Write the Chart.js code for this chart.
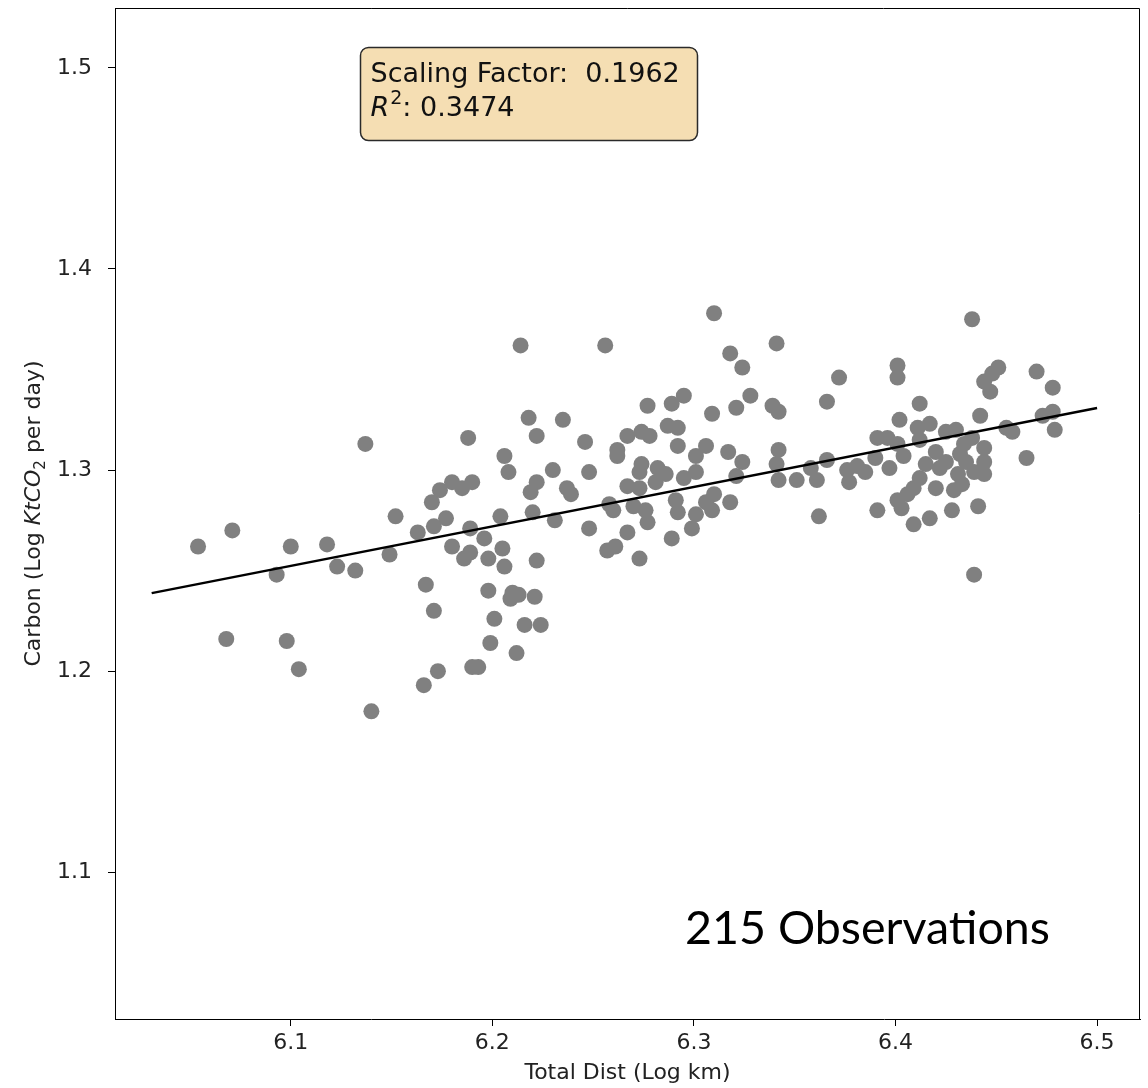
<!DOCTYPE html>
<html>
<head>
<meta charset="utf-8">
<script src="https://cdn.jsdelivr.net/npm/chart.js@4.4.1/dist/chart.umd.min.js"></script>
<style>
  html, body { margin: 0; padding: 0; background: #fff; }
  #wrap { width: 1148px; height: 1088px; }
</style>
</head>
<body>
<div id="wrap"><canvas id="scatter" width="1148" height="1088"></canvas></div>
<script>
// total distance, log km
const distLog = [
  6.054, 6.071, 6.068, 6.098, 6.104, 6.100, 6.093, 6.118, 6.123, 6.132,
  6.137, 6.152, 6.149, 6.140, 6.167, 6.171, 6.166, 6.173, 6.163, 6.170,
  6.174, 6.180, 6.185, 6.190, 6.188, 6.171, 6.177, 6.180, 6.186, 6.189,
  6.189, 6.190, 6.193, 6.310, 6.214, 6.256, 6.341, 6.318, 6.324, 6.295,
  6.289, 6.277, 6.328, 6.321, 6.309, 6.339, 6.342, 6.218, 6.235, 6.222,
  6.246, 6.267, 6.274, 6.278, 6.287, 6.292, 6.292, 6.262, 6.262, 6.206,
  6.208, 6.230, 6.248, 6.274, 6.273, 6.282, 6.286, 6.306, 6.301, 6.317,
  6.324, 6.342, 6.341, 6.321, 6.301, 6.295, 6.281, 6.267, 6.273, 6.342,
  6.351, 6.222, 6.219, 6.237, 6.239, 6.258, 6.260, 6.270, 6.276, 6.277,
  6.291, 6.292, 6.310, 6.306, 6.309, 6.318, 6.301, 6.299, 6.204, 6.220,
  6.231, 6.248, 6.267, 6.289, 6.196, 6.198, 6.205, 6.206, 6.222, 6.257,
  6.261, 6.273, 6.198, 6.210, 6.213, 6.221, 6.209, 6.201, 6.216, 6.224,
  6.199, 6.212, 6.438, 6.372, 6.401, 6.401, 6.451, 6.448, 6.444, 6.447,
  6.470, 6.478, 6.366, 6.412, 6.402, 6.442, 6.411, 6.417, 6.425, 6.430,
  6.455, 6.458, 6.473, 6.478, 6.479, 6.391, 6.396, 6.401, 6.412, 6.404,
  6.390, 6.397, 6.420, 6.425, 6.434, 6.438, 6.444, 6.444, 6.435, 6.415,
  6.444, 6.465, 6.366, 6.358, 6.361, 6.376, 6.381, 6.385, 6.377, 6.412,
  6.409, 6.420, 6.429, 6.433, 6.439, 6.406, 6.401, 6.403, 6.391, 6.362,
  6.417, 6.409, 6.428, 6.441, 6.439, 6.432, 6.422, 6.431
];
// carbon, log ktCO2 per day
const carbonLog = [
  1.262, 1.270, 1.216, 1.215, 1.201, 1.262, 1.248, 1.263, 1.252, 1.250,
  1.313, 1.277, 1.258, 1.180, 1.243, 1.230, 1.193, 1.200, 1.269, 1.284,
  1.290, 1.294, 1.291, 1.294, 1.316, 1.272, 1.276, 1.262, 1.256, 1.259,
  1.271, 1.202, 1.202, 1.378, 1.362, 1.362, 1.363, 1.358, 1.351, 1.337,
  1.333, 1.332, 1.337, 1.331, 1.328, 1.332, 1.329, 1.326, 1.325, 1.317,
  1.314, 1.317, 1.319, 1.317, 1.322, 1.321, 1.312, 1.310, 1.307, 1.307,
  1.299, 1.300, 1.299, 1.303, 1.299, 1.301, 1.298, 1.312, 1.307, 1.309,
  1.304, 1.310, 1.303, 1.297, 1.299, 1.296, 1.294, 1.292, 1.291, 1.295,
  1.295, 1.294, 1.289, 1.291, 1.288, 1.283, 1.280, 1.282, 1.280, 1.274,
  1.285, 1.279, 1.288, 1.284, 1.280, 1.284, 1.278, 1.271, 1.277, 1.279,
  1.275, 1.271, 1.269, 1.266, 1.266, 1.256, 1.261, 1.252, 1.255, 1.260,
  1.262, 1.256, 1.240, 1.239, 1.238, 1.237, 1.236, 1.226, 1.223, 1.223,
  1.214, 1.209, 1.375, 1.346, 1.352, 1.346, 1.351, 1.348, 1.344, 1.339,
  1.349, 1.341, 1.334, 1.333, 1.325, 1.327, 1.321, 1.323, 1.319, 1.320,
  1.321, 1.319, 1.327, 1.329, 1.320, 1.316, 1.316, 1.313, 1.315, 1.307,
  1.306, 1.301, 1.309, 1.304, 1.313, 1.316, 1.311, 1.304, 1.304, 1.303,
  1.298, 1.306, 1.305, 1.301, 1.295, 1.300, 1.302, 1.299, 1.294, 1.296,
  1.291, 1.291, 1.290, 1.293, 1.299, 1.288, 1.285, 1.281, 1.280, 1.277,
  1.276, 1.273, 1.280, 1.282, 1.248, 1.308, 1.301, 1.298
];

// fitted line end points
const fitX = [6.031, 6.500];
const fitY = [1.2388, 1.3309];

const xTicks = [6.1, 6.2, 6.3, 6.4, 6.5];
const yTicks = [1.1, 1.2, 1.3, 1.4, 1.5];
const xRange = [6.0128, 6.5213];
const yRange = [1.0270, 1.5298];

const scalingFactor = "0.1962";
const rSquared = "0.3474";
const obsCount = 215;

const points = distLog.map((x, i) => ({ x: x, y: carbonLog[i] }));
const fitLine = fitX.map((x, i) => ({ x: x, y: fitY[i] }));

const FONT = "'DejaVu Sans', sans-serif";

// frame, text box, observation count and y title
const notesPlugin = {
  id: "notes",
  afterDraw(chart) {
    const ctx = chart.ctx;
    const a = chart.chartArea;
    ctx.save();

    // top and right spines
    ctx.strokeStyle = "#000";
    ctx.lineWidth = 1;
    ctx.beginPath();
    ctx.moveTo(a.left, a.top + 0.5);
    ctx.lineTo(a.right - 0.5, a.top + 0.5);
    ctx.lineTo(a.right - 0.5, a.bottom);
    ctx.stroke();

    // stats box
    const bx = a.left + 245.5, by = a.top + 39.5, bw = 337, bh = 93;
    ctx.beginPath();
    ctx.roundRect(bx, by, bw, bh, 8);
    ctx.fillStyle = "#f5deb3";
    ctx.fill();
    ctx.lineWidth = 1.5;
    ctx.strokeStyle = "#2a2a2a";
    ctx.stroke();

    ctx.fillStyle = "#111";
    ctx.textBaseline = "alphabetic";
    ctx.textAlign = "left";
    ctx.font = "27px " + FONT;
    ctx.fillText("Scaling Factor:  " + scalingFactor, bx + 10, by + 34);

    let tx = bx + 10;
    const ty = by + 68;
    ctx.font = "italic 27px " + FONT;
    ctx.fillText("R", tx, ty);
    tx += ctx.measureText("R").width;
    ctx.font = "19px " + FONT;
    ctx.fillText("2", tx + 1, ty - 12);
    tx += ctx.measureText("2").width + 1;
    ctx.font = "27px " + FONT;
    ctx.fillText(": " + rSquared, tx, ty);

    // observation count
    const obsText = obsCount + " Observations";
    ctx.font = "47px Lato, 'Open Sans', sans-serif";
    const w = ctx.measureText(obsText).width;
    ctx.save();
    ctx.translate(a.left + 570, a.top + 936);
    ctx.scale(365 / w, 1);
    ctx.fillStyle = "#000";
    ctx.fillText(obsText, 0, 0);
    ctx.restore();

    // y axis title with italic KtCO and subscript 2
    const parts = [
      { t: "Carbon (Log ", f: "22px " + FONT, dy: 0 },
      { t: "KtCO", f: "italic 22px " + FONT, dy: 0 },
      { t: "2", f: "15px " + FONT, dy: 5 },
      { t: " per day)", f: "22px " + FONT, dy: 0 }
    ];
    let total = 0;
    parts.forEach(p => { ctx.font = p.f; p.w = ctx.measureText(p.t).width; total += p.w; });
    ctx.translate(40, (a.top + a.bottom) / 2);
    ctx.rotate(-Math.PI / 2);
    ctx.fillStyle = "#222";
    let px = -total / 2;
    parts.forEach(p => {
      ctx.font = p.f;
      ctx.fillText(p.t, px, p.dy);
      px += p.w;
    });
    ctx.restore();
  }
};

const ctx = document.getElementById("scatter").getContext("2d");
new Chart(ctx, {
  type: "scatter",
  data: {
    datasets: [
      {
        type: "line",
        label: "fit",
        data: fitLine,
        borderColor: "#000",
        borderWidth: 2.5,
        pointRadius: 0,
        fill: false,
        order: 0
      },
      {
        label: "obs",
        data: points,
        backgroundColor: "#808080",
        pointRadius: 8,
        pointBorderWidth: 0,
        borderWidth: 0,
        order: 1
      }
    ]
  },
  options: {
    responsive: false,
    animation: false,
    layout: { padding: { top: 6, right: 8, left: 0, bottom: 0 } },
    plugins: {
      legend: { display: false },
      tooltip: { enabled: false }
    },
    scales: {
      x: {
        type: "linear",
        min: xRange[0],
        max: xRange[1],
        afterBuildTicks: (s) => { s.ticks = xTicks.map(v => ({ value: v })); },
        afterFit: (s) => { s.height = 69; s.paddingLeft = 0; s.paddingRight = 0; },
        grid: { display: true, drawOnChartArea: false, drawTicks: true, tickLength: 7, color: "#000", lineWidth: 1 },
        border: { display: true, color: "#000", width: 1 },
        ticks: {
          color: "#222",
          font: { family: "DejaVu Sans", size: 22 },
          padding: 4,
          maxRotation: 0,
          callback: (v) => Number(v).toFixed(1)
        },
        title: {
          display: true,
          text: "Total Dist (Log km)",
          color: "#222",
          font: { family: "DejaVu Sans", size: 22 },
          padding: { top: 0, bottom: 2 }
        }
      },
      y: {
        type: "linear",
        min: yRange[0],
        max: yRange[1],
        afterBuildTicks: (s) => { s.ticks = yTicks.map(v => ({ value: v })); },
        afterFit: (s) => { s.width = 115; s.paddingTop = 0; s.paddingBottom = 0; },
        grid: { display: true, drawOnChartArea: false, drawTicks: true, tickLength: 7, color: "#000", lineWidth: 1 },
        border: { display: true, color: "#000", width: 1 },
        ticks: {
          color: "#222",
          font: { family: "DejaVu Sans", size: 22 },
          padding: 16,
          callback: (v) => Number(v).toFixed(1)
        }
      }
    }
  },
  plugins: [notesPlugin]
});
</script>
</body>
</html>
